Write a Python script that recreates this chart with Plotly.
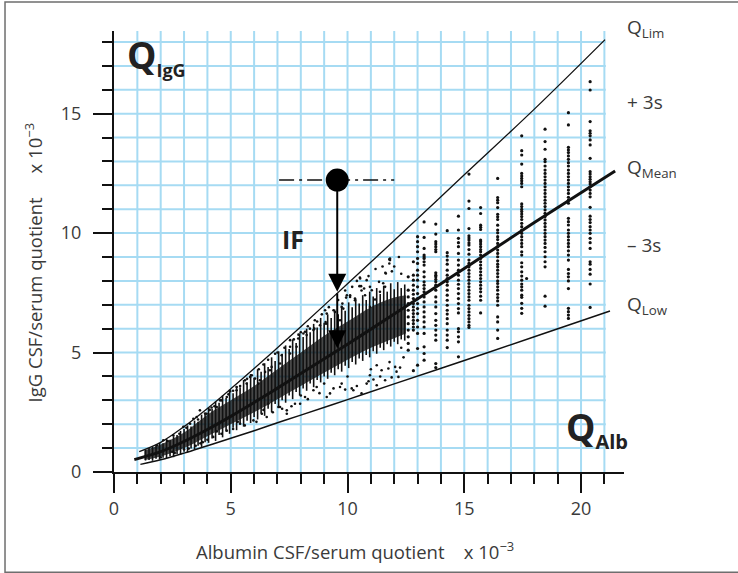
import plotly.graph_objects as go

# ---------------- data (units x 10^-3) ----------------
qlim_x = [1.08, 2, 3, 4, 5, 6, 7, 8, 10, 12, 15, 18, 21.03]
qlim_y = [0.85, 1.24, 1.90, 2.66, 3.48, 4.33, 5.20, 6.08, 7.88, 9.69, 12.44, 15.19, 18.1]

qmean_x = [0.87, 2, 3, 4, 5, 6, 7, 8, 10, 12, 15, 18, 21.46]
qmean_y = [0.52, 0.85, 1.28, 1.78, 2.33, 2.91, 3.51, 4.12, 5.35, 6.61, 8.52, 10.44, 12.6]

qlow_x = [1.13, 2, 3, 4, 5, 6, 7, 8, 10, 12, 15, 18, 21.24]
qlow_y = [0.32, 0.51, 0.79, 1.10, 1.41, 1.73, 2.06, 2.38, 3.03, 3.69, 4.67, 5.66, 6.74]

# dense core of the patient cloud (lower / upper edge)
core_x = [1.3, 2, 3, 4, 5, 6, 7, 8, 9, 10, 11, 12, 12.5]
core_lo = [0.5, 0.65, 1.0, 1.5, 2.0, 2.5, 3.05, 3.6, 4.15, 4.7, 5.2, 5.6, 5.8]
core_hi = [0.9, 1.15, 1.65, 2.4, 3.0, 3.6, 4.3, 5.0, 5.7, 6.3, 6.9, 7.3, 7.4]

# vertical streaks of stacked values (albumin quotient, lowest and highest IgG quotient)
streak_x = [1.35, 1.5, 1.65, 1.8, 1.95, 2.1, 2.25, 2.4, 2.55, 2.7, 2.85, 3.0, 3.15, 3.3, 3.45, 3.6, 3.75,
            3.9, 4.05, 4.2, 4.35, 4.5, 4.65, 4.8, 4.95, 5.1, 5.25, 5.4, 5.55, 5.7, 5.85, 6.0, 6.15, 6.3,
            6.45, 6.6, 6.75, 6.9, 7.05, 7.2, 7.35, 7.5, 7.65, 7.8, 7.95, 8.1, 8.25, 8.4, 8.55, 8.7, 8.85,
            9.0, 9.15, 9.3, 9.45, 9.6, 9.75, 9.9, 10.05, 10.2, 10.35, 10.5, 10.65, 10.8, 10.95, 11.1, 11.25,
            11.4, 11.55, 11.7, 11.85, 12.0, 12.15, 12.3, 12.45]
streak_lo = [0.48, 0.50, 0.47, 0.55, 0.52, 0.60, 0.58, 0.66, 0.62, 0.75, 0.72, 0.85, 0.82, 0.98, 0.95, 1.10,
             1.05, 1.25, 1.22, 1.40, 1.30, 1.55, 1.45, 1.70, 1.60, 1.85, 1.75, 2.00, 1.90, 2.15, 2.05, 2.30,
             2.20, 2.45, 2.35, 2.65, 2.50, 2.85, 2.70, 3.00, 2.90, 3.20, 3.05, 3.35, 3.20, 3.50, 3.40, 3.70,
             3.55, 3.85, 3.75, 4.00, 3.90, 4.15, 4.05, 4.30, 4.20, 4.45, 4.35, 4.60, 4.50, 4.75, 4.65, 4.90,
             4.80, 5.05, 4.95, 5.20, 5.10, 5.35, 5.25, 5.45, 5.35, 5.55, 5.50]
streak_hi = [0.92, 1.00, 1.05, 1.10, 1.22, 1.20, 1.38, 1.35, 1.50, 1.55, 1.72, 1.80, 1.95, 1.90, 2.15, 2.10,
             2.40, 2.45, 2.70, 2.65, 2.95, 2.90, 3.20, 3.10, 3.45, 3.30, 3.60, 3.55, 3.85, 3.75, 4.10, 3.95,
             4.30, 4.20, 4.55, 4.40, 4.80, 4.65, 5.05, 4.95, 5.30, 5.15, 5.55, 5.40, 5.80, 5.65, 6.00, 5.85,
             6.20, 6.05, 6.45, 6.25, 6.60, 6.45, 6.80, 6.60, 6.95, 6.75, 7.10, 6.90, 7.25, 7.05, 7.40, 7.20,
             7.55, 7.35, 7.70, 7.45, 7.80, 7.55, 7.90, 7.65, 7.95, 7.70, 7.85]

# scattered single values around the core
spread_x = [1.83, 2.11, 2.54, 2.97, 3.26, 3.40, 3.54, 3.68, 3.97, 4.18, 4.40, 4.54, 4.83, 4.97, 5.25, 5.25,
            5.61, 5.68, 5.83, 6.04, 6.18, 6.25, 6.47, 6.68, 6.75, 7.11, 7.18, 7.54, 7.54, 7.54, 7.82, 7.89,
            8.11, 8.18, 8.25, 8.39, 8.54, 8.58, 8.82, 9.04, 9.06, 9.08, 9.11, 9.40, 9.46, 9.68, 9.75, 9.78,
            9.82, 9.94, 9.97, 10.11, 10.11, 10.32, 10.32, 10.51, 10.53, 10.54, 10.58, 10.71, 10.75, 10.82,
            10.96, 10.96, 11.04, 11.18, 11.35, 11.39, 11.53, 11.61, 11.62, 11.64, 11.79, 11.79, 11.82, 11.82,
            4.25, 4.83, 5.40, 5.97, 6.33, 6.54, 6.61, 7.04, 7.11, 7.40, 7.40, 7.75, 7.97, 8.18, 8.54, 8.68,
            9.11, 9.25, 9.68, 9.75, 10.18, 10.25, 10.60, 10.82, 10.96, 11.11, 11.25, 11.25, 11.46, 11.61,
            11.75, 11.89, 12.04, 12.18, 12.25, 2.5, 3.0, 3.5, 3.8,
            2.3, 2.8, 3.1, 3.6, 3.9, 4.3, 4.6, 4.9, 5.1, 5.4, 5.9, 6.2, 6.4, 6.9, 7.3, 7.7, 7.9, 8.3, 8.6,
            8.9, 9.2, 9.6, 10.2, 10.4, 10.9, 11.2, 11.5, 12.0, 12.3, 12.2, 11.9, 8.0, 7.0, 6.6, 5.7, 4.1,
            8.7, 9.9, 10.6,
            2.0, 2.6, 3.2, 3.7, 4.0, 4.6, 5.1, 5.6, 6.1, 6.8, 7.2, 7.6, 8.3, 8.8, 9.4, 9.9, 10.4, 10.9, 11.4,
            12.1, 8.0, 9.0, 10.0, 11.0, 11.8, 6.4, 5.3, 4.4, 12.4, 12.3]
spread_y = [1.12, 1.33, 1.54, 1.89, 2.02, 2.23, 2.30, 2.58, 2.44, 2.70, 2.72, 3.00, 3.14, 3.38, 3.42, 3.56,
            3.84, 3.70, 3.98, 3.91, 3.70, 3.84, 4.19, 4.26, 4.40, 4.54, 4.89, 5.24, 4.96, 5.52, 5.24, 5.59,
            5.80, 5.87, 5.73, 6.00, 5.94, 6.00, 6.14, 6.77, 6.28, 6.21, 6.63, 6.77, 6.70, 6.35, 6.91, 7.05,
            6.84, 7.30, 7.40, 7.33, 7.40, 7.19, 7.26, 7.78, 8.14, 8.10, 7.78, 7.68, 7.40, 8.03,
            6.91, 7.75, 7.61, 7.22, 7.96, 7.54, 7.90, 7.75, 8.34, 8.31, 8.73, 8.90, 8.87, 8.94,
            1.47, 1.73, 2.02, 2.16, 2.44, 2.30, 2.86, 2.72, 2.72, 2.44, 2.58, 2.86, 2.86, 3.14, 3.42, 3.56,
            3.14, 3.29, 3.56, 3.70, 3.50, 3.42, 3.29, 3.70, 4.05, 3.87, 3.63, 4.47, 4.26, 3.84,
            4.33, 3.96, 4.40, 3.98, 4.37, 0.85, 0.95, 1.10, 1.25,
            1.30, 1.60, 1.85, 2.20, 2.45, 2.75, 3.00, 3.25, 3.40, 3.60, 4.05, 4.30, 4.50, 4.95, 5.20, 5.55,
            5.75, 6.10, 6.35, 6.60, 6.90, 7.20, 7.75, 8.00, 8.20, 8.50, 8.60, 8.60, 8.30, 9.00, 8.40, 5.85,
            5.00, 4.70, 3.90, 2.60, 6.30, 7.60, 7.60,
            0.62, 0.80, 0.98, 1.20, 1.35, 1.60, 1.80, 1.95, 2.10, 2.50, 2.65, 2.75, 3.05, 3.30, 3.50, 3.45,
            3.60, 3.80, 4.00, 4.20, 3.20, 3.70, 4.00, 4.30, 4.60, 2.60, 2.10, 1.70, 4.80, 5.20]

# sparse columns at high albumin quotients
col_x = [12.6, 12.82, 13.0, 13.28, 13.78, 14.27, 14.75, 15.2, 15.7, 16.43, 17.46, 18.46, 19.46, 20.39]
col_y = [
    [8.17, 7.61, 7.33, 7.05, 6.77, 6.49, 6.21, 5.94, 5.66, 5.38, 5.10],
    [8.80, 8.24, 8.03, 7.82, 7.61, 7.44, 7.26, 7.05, 6.91, 6.77, 6.63, 6.49, 6.35, 6.21, 6.07, 5.94, 4.24],
    [9.85, 9.64, 9.43, 9.22, 8.94, 8.73, 8.45, 8.24, 8.03, 7.75, 7.47, 7.26, 7.05, 6.84, 6.63, 6.35, 6.07,
     5.80, 5.17, 4.47],
    [10.47, 9.82, 9.36, 9.08, 9.01, 8.94, 8.80, 8.66, 8.38, 8.17, 7.96, 7.82, 7.68, 7.54, 7.33, 7.12, 6.91,
     6.70, 6.49, 6.28, 6.07, 5.80, 5.24, 4.96, 4.68],
    [10.38, 9.96, 9.64, 9.54, 9.43, 9.31, 9.22, 8.34, 8.24, 8.17, 8.06, 7.96, 7.82, 7.61, 7.33, 7.12, 6.91,
     6.63, 6.35, 6.14, 5.94, 5.73, 5.52, 4.54, 4.37],
    [10.10, 9.18, 9.04, 8.87, 8.70, 8.45, 8.24, 8.10, 7.96, 7.82, 7.61, 7.40, 7.19, 6.98, 6.77, 6.61, 6.42,
     6.21, 5.94, 5.73, 5.52, 5.21],
    [10.71, 10.13, 9.78, 9.60, 9.43, 9.15, 8.87, 8.66, 8.45, 8.24, 8.03, 7.86, 7.68, 7.47, 7.26, 7.05, 6.84,
     6.66, 6.00, 5.87, 5.66, 5.45, 4.82],
    [12.47, 11.34, 11.03, 10.19, 9.89, 9.80, 9.71, 9.59, 9.50, 9.31, 9.12, 8.87, 8.73, 8.59, 8.45, 8.31, 8.17,
     8.03, 7.89, 7.75, 7.61, 7.47, 7.33, 7.19, 6.98, 6.84, 6.70, 6.56, 6.42, 6.28, 6.14, 6.05],
    [11.07, 10.82, 10.33, 10.24, 10.15, 9.71, 9.64, 9.54, 9.43, 9.31, 9.22, 9.08, 8.94, 8.80, 8.66, 8.52, 8.38,
     8.24, 8.10, 7.96, 7.82, 7.68, 7.54, 7.36, 7.19, 6.66],
    [12.29, 11.49, 11.38, 11.27, 11.07, 10.79, 10.68, 10.57, 10.33, 10.13, 10.01, 9.85, 9.73, 9.57, 9.43, 9.29,
     9.15, 9.01, 8.84, 8.70, 8.59, 8.45, 8.31, 8.17, 8.00, 7.89, 7.75, 7.61, 7.44, 7.30, 7.16, 6.98, 6.49, 6.28,
     5.94, 5.59],
    [14.07, 13.45, 13.27, 12.89, 12.50, 12.39, 12.29, 12.19, 12.08, 11.94, 11.22, 11.11, 10.99, 10.90, 10.80,
     10.69, 10.57, 10.41, 10.27, 10.13, 9.99, 9.85, 9.71, 9.57, 9.43, 9.22, 9.08, 8.76, 8.59, 8.38, 8.20, 8.03,
     7.87, 7.75, 7.61, 7.40, 7.31, 7.06, 6.85, 6.64],
    [14.35, 13.83, 13.51, 13.09, 12.99, 12.81, 12.64, 12.50, 12.36, 12.22, 12.08, 11.94, 11.80, 11.66, 11.52,
     11.38, 11.25, 11.11, 10.97, 10.83, 10.69, 10.55, 10.41, 10.27, 10.13, 9.99, 9.85, 9.71, 9.57, 9.40, 9.22,
     9.01, 8.80, 8.59, 7.36, 6.94],
    [15.04, 14.53, 13.59, 13.48, 13.37, 13.23, 13.09, 12.95, 12.81, 12.64, 12.50, 12.36, 12.22, 12.08, 11.94,
     11.80, 11.66, 11.50, 11.38, 11.25, 10.62, 10.48, 10.34, 10.13, 9.99, 9.85, 9.71, 9.57, 9.43, 9.26, 9.08,
     8.87, 8.48, 8.31, 8.17, 8.00, 7.68, 6.85, 6.71, 6.57, 6.43],
    [16.34, 15.99, 14.67, 14.28, 14.18, 14.07, 13.90, 13.69, 13.13, 12.57, 12.47, 12.36, 12.25, 12.15, 12.06,
     11.94, 11.80, 11.66, 11.52, 11.08, 10.71, 10.57, 10.44, 10.27, 10.13, 9.99, 9.78, 9.60, 9.36, 8.80, 8.70,
     8.48, 8.28, 7.87, 6.89],
]
extra_x = [17.67]
extra_y = [8.10]

# intrathecal fraction example
pat_x = [9.56]
pat_y = [12.22]
ref_x = [7.07, 12.0]
qlim_at_pat = 7.54
qmean_at_pat = 5.18

x_major = [0, 5, 10, 15, 20]
y_major = [0, 5, 10, 15]
x_minor = list(range(0, 22))
y_minor = list(range(0, 19))

# ---------------- figure ----------------
INK = "#111111"
TXT = "#3a3a3a"
GRID = "#a6dbf3"
FONT = "Open Sans"
YMAX = 18.46

fig = go.Figure()

shapes = []
for gx in range(1, 22):
    shapes.append(dict(type="line", xref="x", yref="y", x0=gx, x1=gx, y0=0, y1=YMAX,
                       line=dict(color=GRID, width=2), layer="below"))
for gy in range(1, 19):
    shapes.append(dict(type="line", xref="x", yref="y", x0=0, x1=21.06, y0=gy, y1=gy,
                       line=dict(color=GRID, width=2), layer="below"))
shapes.append(dict(type="rect", xref="paper", yref="paper", x0=-0.2137, x1=1.25, y0=-0.2276, y1=1.0658,
                   line=dict(color="#6e6e6e", width=1.5), layer="below"))

# dense core
fig.add_trace(go.Scatter(x=core_x, y=core_lo, mode="lines", line=dict(width=0, shape="spline"),
                         showlegend=False, hoverinfo="skip"))
fig.add_trace(go.Scatter(x=core_x, y=core_hi, mode="lines", line=dict(width=0, shape="spline"),
                         fill="tonexty", fillcolor="rgba(0,0,0,0.72)", showlegend=False, hoverinfo="skip"))

# streaks
sx, sy = [], []
for xv, lo, hi in zip(streak_x, streak_lo, streak_hi):
    sx += [xv, xv, None]
    sy += [lo, hi, None]
fig.add_trace(go.Scatter(x=sx, y=sy, mode="lines", line=dict(color=INK, width=1.6),
                         showlegend=False, hoverinfo="skip"))

# scatter dots
fig.add_trace(go.Scatter(x=spread_x, y=spread_y, mode="markers",
                         marker=dict(size=2.6, color=INK), showlegend=False))
cx, cy = [], []
for xv, ys in zip(col_x, col_y):
    for yv in ys:
        cx.append(xv)
        cy.append(yv)
cx += extra_x
cy += extra_y
fig.add_trace(go.Scatter(x=cx, y=cy, mode="markers", marker=dict(size=3.2, color=INK), showlegend=False))

# reference curves
fig.add_trace(go.Scatter(x=qlim_x, y=qlim_y, mode="lines", line=dict(color=INK, width=1.3, shape="spline"),
                         showlegend=False))
fig.add_trace(go.Scatter(x=qmean_x, y=qmean_y, mode="lines", line=dict(color=INK, width=3, shape="spline"),
                         showlegend=False))
fig.add_trace(go.Scatter(x=qlow_x, y=qlow_y, mode="lines", line=dict(color=INK, width=1.5, shape="spline"),
                         showlegend=False))

# dash-dot reference line and patient dot
fig.add_trace(go.Scatter(x=ref_x, y=pat_y * 2, mode="lines",
                         line=dict(color=INK, width=1.6, dash="15px,5px,3px,5px"), showlegend=False))
fig.add_trace(go.Scatter(x=pat_x, y=pat_y, mode="markers", marker=dict(size=23, color="#000000"),
                         showlegend=False))

def py(v):
    return v / YMAX

annotations = [
    dict(x=pat_x[0], y=qlim_at_pat, ax=pat_x[0], ay=pat_y[0], xref="x", yref="y", axref="x", ayref="y",
         text="", showarrow=True, arrowhead=2, arrowsize=1.8, arrowwidth=2, arrowcolor="#000"),
    dict(x=pat_x[0], y=qmean_at_pat, ax=pat_x[0], ay=qlim_at_pat, xref="x", yref="y", axref="x", ayref="y",
         text="", showarrow=True, arrowhead=2, arrowsize=1.8, arrowwidth=2, arrowcolor="#000"),
    dict(x=0.45, y=17.42, xref="x", yref="y",
         text="<b>Q<sub><span style='font-size:18px'>IgG</span></sub></b>", showarrow=False,
         xanchor="left", yanchor="middle", font=dict(family=FONT, size=37, color="#222")),
    dict(x=19.25, y=1.85, xref="x", yref="y",
         text="<b>Q<sub><span style='font-size:20px'>Alb</span></sub></b>", showarrow=False,
         xanchor="left", yanchor="middle", font=dict(family=FONT, size=37, color="#222")),
    dict(x=7.11, y=9.75, xref="x", yref="y", text="<b>IF</b>", showarrow=False, xanchor="left",
         yanchor="middle", font=dict(family=FONT, size=25, color="#222")),
    dict(x=1.002, y=py(18.6), xref="paper", yref="paper", text="Q<sub>Lim</sub>", showarrow=False,
         xanchor="left", yanchor="middle", font=dict(family=FONT, size=19, color=TXT)),
    dict(x=1.002, y=py(15.5), xref="paper", yref="paper", text="+ 3s", showarrow=False,
         xanchor="left", yanchor="middle", font=dict(family=FONT, size=19, color=TXT)),
    dict(x=1.002, y=py(12.72), xref="paper", yref="paper", text="Q<sub>Mean</sub>", showarrow=False,
         xanchor="left", yanchor="middle", font=dict(family=FONT, size=19, color=TXT)),
    dict(x=1.002, y=py(9.5), xref="paper", yref="paper", text="\u2013 3s", showarrow=False,
         xanchor="left", yanchor="middle", font=dict(family=FONT, size=19, color=TXT)),
    dict(x=1.002, y=py(6.98), xref="paper", yref="paper", text="Q<sub>Low</sub>", showarrow=False,
         xanchor="left", yanchor="middle", font=dict(family=FONT, size=19, color=TXT)),
    dict(x=0.4725, y=-0.178, xref="paper", yref="paper", showarrow=False,
         text="Albumin CSF/serum quotient&nbsp;&nbsp;&nbsp;&nbsp;x 10<sup>\u22123</sup>",
         font=dict(family=FONT, size=18.5, color=TXT), xanchor="center", yanchor="middle"),
    dict(x=-0.157, y=0.475, xref="paper", yref="paper", showarrow=False, textangle=-90,
         text="IgG CSF/serum quotient&nbsp;&nbsp;&nbsp;&nbsp;&nbsp;x 10<sup>\u22123</sup>",
         font=dict(family=FONT, size=18.5, color=TXT), xanchor="center", yanchor="middle"),
]

fig.update_layout(
    width=738, height=573,
    margin=dict(l=114, r=114, t=31, b=101),
    paper_bgcolor="white", plot_bgcolor="white",
    shapes=shapes, annotations=annotations,
    font=dict(family=FONT, size=17, color=TXT),
    showlegend=False,
)
fig.update_xaxes(range=[0, 21.84], showgrid=False, zeroline=False, showline=True, linecolor=INK,
                 linewidth=2, ticks="outside", tickvals=x_major, ticklen=19, tickwidth=2, tickcolor=INK,
                 tickfont=dict(family=FONT, size=18, color=TXT),
                 minor=dict(tickvals=x_minor, ticks="outside", ticklen=10, tickwidth=1.6, tickcolor=INK,
                            showgrid=False))
fig.update_yaxes(range=[0, YMAX], showgrid=False, zeroline=False, showline=True, linecolor=INK,
                 linewidth=2, ticks="outside", tickvals=y_major, ticklen=19, tickwidth=2, tickcolor=INK,
                 tickfont=dict(family=FONT, size=18, color=TXT), ticklabelstandoff=8,
                 minor=dict(tickvals=y_minor, ticks="outside", ticklen=10, tickwidth=1.6, tickcolor=INK,
                            showgrid=False))

fig.write_html("out.html", config={"displayModeBar": False},
               post_script="document.body.style.margin='0';")
